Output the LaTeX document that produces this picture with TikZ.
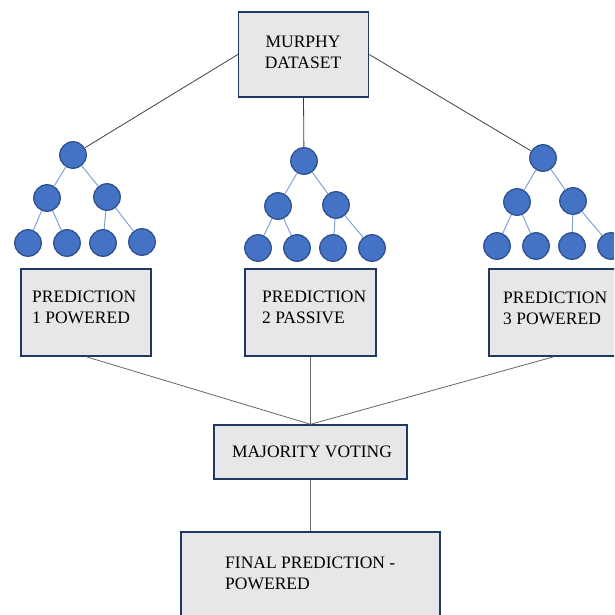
\documentclass[tikz,border=0pt]{standalone}
\usepackage{fontspec}
\setmainfont{Liberation Serif}
\newfontfamily\tnr{Liberation Serif}
\definecolor{boxfill}{HTML}{E7E7E7}
\definecolor{boxline}{HTML}{1F3864}
\definecolor{nodefill}{HTML}{4472C4}
\definecolor{nodeline}{HTML}{2F528F}
\definecolor{treeedge}{HTML}{7FA3DD}
\definecolor{conn}{HTML}{404040}
\begin{document}
\begin{tikzpicture}[x=1pt,y=-1pt,
  box/.style={draw=boxline,line width=1.4pt,fill=boxfill,inner sep=0pt},
  lbl/.style={anchor=base west,inner sep=0pt,font=\tnr\fontsize{17.5}{21.5}\selectfont},
  ctr/.style={anchor=base,inner sep=0pt,font=\tnr\fontsize{17.5}{21.5}\selectfont},
  tn/.style={circle,draw=nodeline,line width=1.3pt,fill=nodefill,minimum size=26.5pt,inner sep=0pt},
  te/.style={draw=treeedge,line width=1pt},
  cn/.style={draw=conn,line width=0.8pt}]
\useasboundingbox (0,0) rectangle (614,615);
\clip (0,0) rectangle (614,615);
% boxes
\node[box,minimum width=130pt,minimum height=85pt] (murphy) at (303.5,54.5) {};
\node[box,minimum width=130pt,minimum height=87pt] (p1) at (86,312.5) {};
\node[box,minimum width=131pt,minimum height=87pt] (p2) at (310.5,312.5) {};
\node[box,minimum width=130pt,minimum height=87pt] (p3) at (554,312.5) {};
\node[box,minimum width=193pt,minimum height=54pt] (maj) at (310.5,452) {};
\node[box,minimum width=259pt,minimum height=100pt] (fin) at (310.5,582) {};
% texts
\node[ctr] (tm1) at (303,48) {MURPHY};
\node[ctr] (tm2) at (303,69) {DATASET};
\node[lbl] (t1a) at (32,302) {PREDICTION};
\node[lbl] (t1b) at (32,323) {1 POWERED};
\node[lbl] (t2a) at (262,302) {PREDICTION};
\node[lbl] (t2b) at (262,323) {2 PASSIVE};
\node[lbl] (t3a) at (503,303) {PREDICTION};
\node[lbl] (t3b) at (503,324) {3 POWERED};
\node[ctr] (tmaj) at (312,457) {MAJORITY VOTING};
\node[lbl] (tf1) at (225,568) {FINAL PREDICTION -};
\node[lbl] (tf2) at (225,589) {POWERED};
% tree 1
\node[tn] (a0) at (73,155) {};
\node[tn] (a1) at (47,198) {};
\node[tn] (a2) at (107,197) {};
\node[tn] (a3) at (28,243) {};
\node[tn] (a4) at (67,243) {};
\node[tn] (a5) at (103,243) {};
\node[tn] (a6) at (142,242) {};
% tree 2
\node[tn] (b0) at (304,161) {};
\node[tn] (b1) at (278,206) {};
\node[tn] (b2) at (336,205) {};
\node[tn] (b3) at (258,248) {};
\node[tn] (b4) at (297,248) {};
\node[tn] (b5) at (333,248) {};
\node[tn] (b6) at (372,248) {};
% tree 3
\node[tn] (c0) at (543,158) {};
\node[tn] (c1) at (517,202) {};
\node[tn] (c2) at (573,201) {};
\node[tn] (c3) at (497,246) {};
\node[tn] (c4) at (536,246) {};
\node[tn] (c5) at (572,246) {};
\node[tn] (c6) at (611,246) {};
% tree edges
\foreach \t in {a,b,c}{
  \draw[te] (\t0) -- (\t1);
  \draw[te] (\t0) -- (\t2);
  \draw[te] (\t1) -- (\t3);
  \draw[te] (\t1) -- (\t4);
  \draw[te] (\t2) -- (\t5);
  \draw[te] (\t2) -- (\t6);
}
% connectors
\draw[cn] (murphy.west) -- (a0);
\draw[cn] (murphy.south) -- (b0);
\draw[cn] (murphy.east) -- (c0);
\draw[cn,draw=gray!80!black] (p1.south) -- (maj.north);
\draw[cn,draw=gray!80!black] (p2.south) -- (maj.north);
\draw[cn,draw=gray!80!black] (p3.south) -- (maj.north);
\draw[cn,draw=gray!80!black] (maj.south) -- (fin.north);
\end{tikzpicture}
\end{document}
